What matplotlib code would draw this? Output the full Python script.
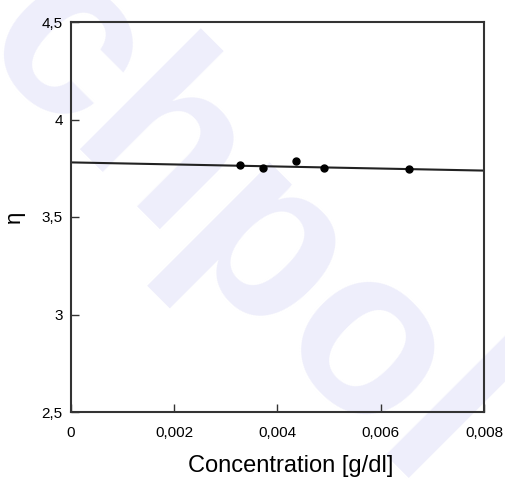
import matplotlib
matplotlib.use("Agg")
import matplotlib.pyplot as plt
from matplotlib.ticker import FuncFormatter

plt.rcParams["font.family"] = ["Liberation Sans", "DejaVu Sans"]

# measured points
conc = [0.00327, 0.00372, 0.00436, 0.00490, 0.00655]
eta = [3.765, 3.753, 3.786, 3.753, 3.745]

# fitted line end points
fit_x = [0.0, 0.008]
fit_y = [3.78, 3.738]

x_ticks = [0, 0.002, 0.004, 0.006, 0.008]
y_ticks = [2.5, 3, 3.5, 4, 4.5]


def comma_fmt(v, pos):
    s = f"{v:g}"
    return s.replace(".", ",")


fig = plt.figure(figsize=(5.06, 4.8), dpi=100)

# faint watermark behind the plot
fig.text(0.47, 0.52, "chpol", fontsize=170, color="#eeeefb", rotation=-45,
         ha="center", va="center", zorder=0, fontweight="bold")

ax = fig.add_axes([71 / 506, 1 - 412 / 480, (484 - 71) / 506, (412 - 22) / 480])
ax.set_zorder(2)
ax.set_facecolor("none")

ax.plot(fit_x, fit_y, color="#222222", lw=1.5)
ax.plot(conc, eta, "o", color="black", ms=5)

ax.set_xlim(0, 0.008)
ax.set_ylim(2.5, 4.5)
ax.set_xticks(x_ticks)
ax.set_yticks(y_ticks)
ax.xaxis.set_major_formatter(FuncFormatter(comma_fmt))
ax.yaxis.set_major_formatter(FuncFormatter(comma_fmt))
ax.tick_params(direction="in", length=6, width=1, labelsize=11, colors="#333333",
               labelcolor="black")
ax.tick_params(axis="x", pad=10)
ax.tick_params(axis="y", pad=6)

for side in ax.spines.values():
    side.set_linewidth(1.5)
    side.set_color("#333333")

ax.set_xlabel("Concentration [g/dl]", fontsize=17)
ax.xaxis.set_label_coords(0.533, -0.11)
ax.set_ylabel("η", fontsize=16, labelpad=12)

fig.savefig("out.png", dpi=100)
